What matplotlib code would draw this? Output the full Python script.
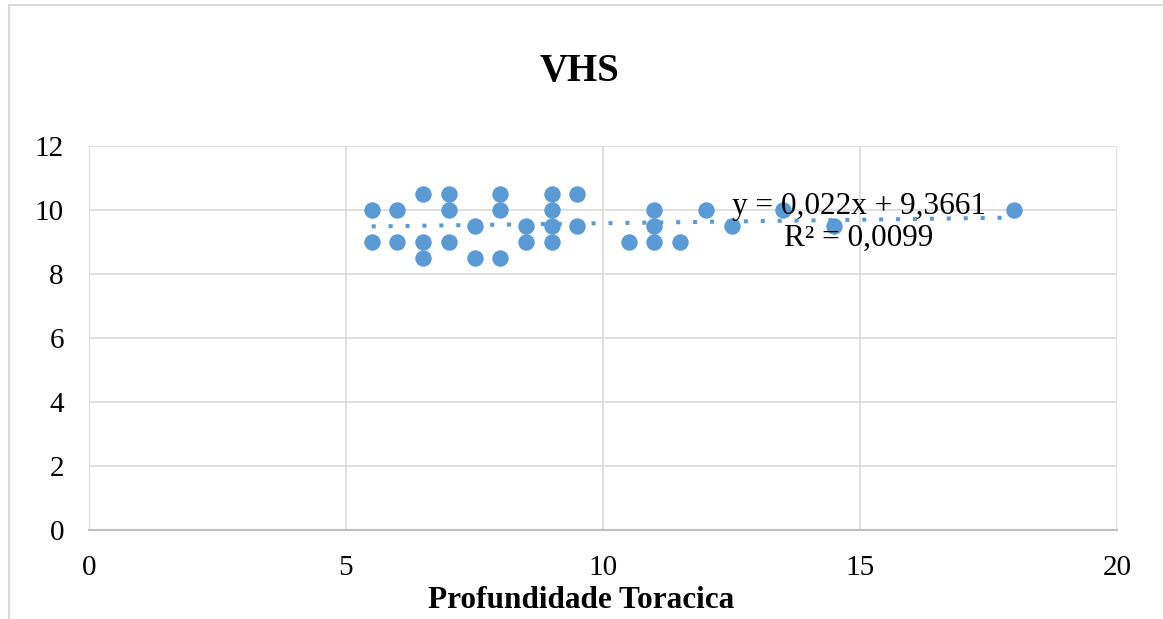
import numpy as np
import matplotlib.pyplot as plt
from matplotlib.patches import Rectangle

# data
prof_toracica = [5.5, 5.5, 6, 6, 6.5, 6.5, 6.5, 7, 7, 7, 7.5, 7.5, 8, 8, 8,
                 8.5, 8.5, 9, 9, 9, 9, 9.5, 9.5, 10.5, 11, 11, 11, 11.5,
                 12, 12.5, 13.5, 14.5, 18]
vhs = [10, 9, 10, 9, 10.5, 9, 8.5, 10.5, 10, 9, 9.5, 8.5, 10.5, 10, 8.5,
       9.5, 9, 10.5, 10, 9.5, 9, 10.5, 9.5, 9, 10, 9.5, 9, 9,
       10, 9.5, 10, 9.5, 10]

# linear trendline as given in the chart
slope = 0.022
intercept = 9.3661
r2 = 0.0099

blue = '#5b9bd5'
grid_color = '#d9d9d9'

plt.rcParams['font.family'] = ['Liberation Serif', 'DejaVu Serif']

fig = plt.figure(figsize=(11.63, 6.19), dpi=100)
ax = fig.add_axes([89/1163, 1 - 530/619, (1117-89)/1163, (530-146)/619])

# outer chart border
fig.patches.append(Rectangle((9/1163, -0.1), 1.2, 1.1 - 5/619, transform=fig.transFigure,
                             fill=False, edgecolor=grid_color, linewidth=1.5))

ax.scatter(prof_toracica, vhs, s=140, color=blue, zorder=3, linewidths=0)

x_fit = np.array([min(prof_toracica), max(prof_toracica)])
ax.plot(x_fit, slope * x_fit + intercept, color=blue, linewidth=2.9,
        linestyle=(0, (1, 3.2)), dash_capstyle='butt', zorder=2)

eq = 'y = {:.3f}x + {:.4f}\nR² = {:.4f}'.format(slope, intercept, r2).replace('.', ',')
ax.text(14.98, 9.62, eq, ha='center', va='center', fontsize=22.5, linespacing=1.15, zorder=4)

ax.set_xlim(0, 20)
ax.set_ylim(0, 12)
ax.set_xticks(range(0, 21, 5))
ax.set_yticks(range(0, 13, 2))
ax.grid(True, color=grid_color, linewidth=1.2)
ax.set_axisbelow(True)
for s in ['top', 'right', 'left']:
    ax.spines[s].set_visible(False)
ax.spines['bottom'].set_color('#bfbfbf')
ax.spines['bottom'].set_linewidth(1.5)
ax.tick_params(length=0, labelsize=21, pad=18)

fig.text(581/1163, 1 - 601/619, 'Profundidade Toracica', ha='center', va='center',
         fontsize=22.5, fontweight='bold')
fig.text(580/1163, 1 - 72/619, 'VHS', ha='center', va='center', fontsize=28, fontweight='bold')

fig.savefig('out.png', dpi=100)
